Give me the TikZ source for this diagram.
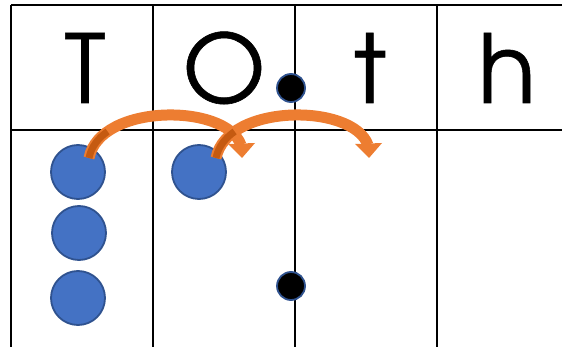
\documentclass[tikz,border=0pt]{standalone}
\usepackage{fontspec}
\setmainfont{TeX Gyre Adventor}[FakeBold=0.6]
\usetikzlibrary{calc}
\definecolor{cblue}{HTML}{4472C4}
\definecolor{cbluedark}{HTML}{2F528F}
\definecolor{corange}{HTML}{ED7D31}
\definecolor{corangedark}{HTML}{C55A11}
\tikzset{
  grid/.style={line width=1.6pt, black},
  letter/.style={anchor=base, font=\fontsize{95}{95}\selectfont, inner sep=0pt},
  counter/.style={circle, fill=cblue, draw=cbluedark, line width=1.8pt, minimum size=54pt, inner sep=0pt},
  dot/.style={circle, fill=black, draw=cbluedark, line width=1.8pt, minimum size=28pt, inner sep=0pt},
  jump/.style={line width=11pt, corange},
  jumphead/.style={fill=corange},
  jumpshade/.style={line width=7pt, corangedark}
}
\begin{document}
\begin{tikzpicture}[x=1pt,y=-1pt]
\useasboundingbox (0,0) rectangle (562,347);
% grid
\draw[grid] (11,5) -- (562,5);
\draw[grid] (11,130) -- (562,130);
\draw[grid] (11,5) -- (11,347);
\draw[grid] (153,5) -- (153,347);
\draw[grid] (295,5) -- (295,347);
\draw[grid] (437,5) -- (437,347);
% letters
\node[letter] (lT) at (85,103) {T};
\node[letter] (lO) at (224,103) {O};
\node[letter] (lt) at (370,103) {t};
\node[letter] (lh) at (507,103) {h};
% counters
\node[counter] (c1) at (78,172) {};
\node[counter] (c2) at (79,233) {};
\node[counter] (c3) at (78,298) {};
\node[counter] (c4) at (199,172) {};
% dots
\node[dot] (d1) at (291,88) {};
\node[dot] (d2) at (291,286) {};
% arrows
\coordinate (a1s) at (89,158);
\coordinate (a1e) at (241,145);
\coordinate (a1t) at (242,158);
\coordinate (a2s) at (216,158);
\coordinate (a2e) at (368,145);
\coordinate (a2t) at (369,158);
\draw[jump] (a1s) .. controls (100,103) and (226,103) .. (a1e);
\fill[jumphead] ($(a1t)+(-14,-14)$) -- ($(a1t)+(13,-15)$) -- (a1t) -- cycle;
\draw[jumpshade] (a1s) .. controls (91.2,147) and (98,138.2) .. (107.6,131.5);
\draw[jump] (a2s) .. controls (227,103) and (353,103) .. (a2e);
\fill[jumphead] ($(a2t)+(-14,-14)$) -- ($(a2t)+(13,-15)$) -- (a2t) -- cycle;
\draw[jumpshade] (a2s) .. controls (218.2,147) and (225,138.2) .. (234.6,131.5);
\end{tikzpicture}
\end{document}
